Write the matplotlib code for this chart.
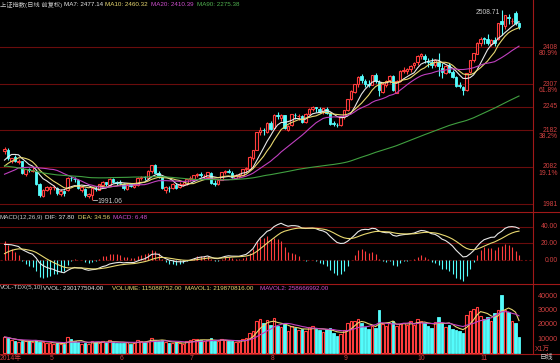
import numpy as np
import pandas as pd
import matplotlib
matplotlib.use('Agg')
import matplotlib.pyplot as plt
from matplotlib.patches import Rectangle
from matplotlib.lines import Line2D
from matplotlib.transforms import blended_transform_factory

plt.rcParams['font.family'] = ['Liberation Sans', 'Noto Sans CJK SC', 'DejaVu Sans']

# closes before the visible window (needed for MA90 / MACD warm-up)
pre_close = [2220.50,
    2207.37, 2222.67, 2251.76, 2248.02, 2237.11, 2238.00, 2238.17, 2203.33, 2201.93, 2196.07, 2160.86,
    2151.08, 2143.30, 2127.36, 2084.79, 2089.71, 2098.40, 2102.42, 2073.10, 2101.25, 2097.53, 2115.98,
    2109.39, 2083.14, 2045.71, 2047.32, 2044.34, 2027.62, 2013.30, 2009.56, 2026.84, 2023.35, 2023.34,
    2004.95, 1991.25, 2008.31, 2051.75, 2042.18, 2054.39, 2033.30, 2038.51, 2049.91, 2033.08,
    2044.50, 2086.00, 2103.67, 2110.52, 2100.46, 2115.85, 2135.28, 2112.13, 2142.55, 2128.13, 2113.69,
    2076.69, 2034.22, 2047.36, 2047.83, 2056.30,
    2075.24, 2071.47, 2053.08, 2071.68, 2057.91, 1999.06, 2001.15, 1997.69, 2019.11, 2004.34, 2023.67,
    2025.20, 2021.73, 1993.48, 2047.62, 2066.28, 2067.31, 2063.67, 2046.59, 2041.71, 2033.31,
    2047.46, 2059.08, 2043.71, 2058.99, 2098.28, 2105.12, 2134.28, 2130.54]

# visible window: 2014-04-14 .. 2014-11-18
open_ = [2124, 2129, 2099, 2109, 2095, 2098, 2062, 2075, 2071, 2072, 2035, 2003, 2018,
    2022, 2027, 2025, 2008, 2016, 2018, 2051, 2050, 2045, 2020, 2022, 2003, 2005, 2023, 2020, 2034, 2040, 2033, 2049, 2040,
    2040, 2036, 2023, 2035, 2028, 2033, 2052, 2054, 2052, 2070, 2086, 2066, 2054, 2020, 2025, 2024, 2034, 2026, 2033, 2036,
    2049, 2050, 2059, 2063, 2056, 2055, 2066, 2037, 2035, 2046, 2067, 2070, 2066, 2053, 2058, 2060, 2075, 2077, 2107, 2129, 2178, 2182, 2178,
    2200, 2188, 2224, 2215, 2222, 2183, 2196, 2224, 2220, 2221, 2203, 2227, 2239, 2244, 2240, 2230, 2240, 2228, 2200, 2197, 2195,
    2218, 2236, 2267, 2285, 2307, 2328, 2315, 2307, 2305, 2333, 2314, 2285, 2306, 2318, 2330, 2284, 2315, 2343, 2343, 2348, 2358,
    2367, 2384, 2383, 2370, 2368, 2358, 2368, 2352, 2338, 2358, 2340, 2326, 2305, 2300, 2290, 2340, 2372, 2390,
    2420, 2432, 2431, 2417, 2427, 2430, 2480, 2466, 2491, 2478, 2500, 2472]
high = [2136, 2132, 2107, 2114, 2103, 2099, 2077, 2080, 2083, 2073, 2038, 2021, 2031,
    2030, 2034, 2027, 2023, 2019, 2055, 2057, 2054, 2048, 2030, 2024, 2011, 2027, 2031, 2036, 2044, 2042, 2053, 2051, 2044,
    2045, 2039, 2037, 2038, 2035, 2055, 2058, 2056, 2073, 2088, 2089, 2070, 2056, 2030, 2029, 2038, 2037, 2040, 2040, 2050,
    2056, 2060, 2066, 2067, 2062, 2068, 2068, 2045, 2049, 2069, 2073, 2076, 2070, 2062, 2065, 2077, 2082, 2111, 2128, 2178, 2190, 2188, 2203,
    2207, 2225, 2231, 2227, 2224, 2197, 2227, 2229, 2226, 2224, 2229, 2242, 2248, 2246, 2244, 2242, 2244, 2232, 2207, 2201, 2219,
    2238, 2267, 2290, 2307, 2328, 2334, 2320, 2319, 2333, 2338, 2318, 2312, 2319, 2333, 2332, 2318, 2346, 2353, 2351, 2359, 2367,
    2385, 2391, 2390, 2378, 2378, 2376, 2392, 2365, 2358, 2364, 2345, 2330, 2313, 2302, 2338, 2374, 2393, 2423,
    2435, 2436, 2444, 2431, 2435, 2474, 2508.71, 2496, 2499, 2487, 2506, 2477]
low = [2118, 2101, 2093, 2096, 2090, 2063, 2056, 2068, 2067, 2033, 2001, 2000, 2017,
    2009, 2019, 2005, 2004, 2002, 2017, 2044, 2040, 2022, 2015, 2000, 1998, 1991.06, 2016, 2018, 2030, 2030, 2031, 2038, 2033,
    2032, 2020, 2019, 2026, 2024, 2030, 2047, 2045, 2050, 2065, 2064, 2053, 2021, 2010, 2015, 2022, 2021, 2024, 2030, 2033,
    2044, 2047, 2055, 2054, 2049, 2049, 2036, 2031, 2033, 2045, 2063, 2064, 2052, 2048, 2053, 2058, 2069, 2075, 2101, 2127, 2170, 2170, 2174,
    2181, 2186, 2213, 2207, 2185, 2179, 2194, 2212, 2210, 2201, 2200, 2225, 2233, 2232, 2228, 2226, 2226, 2197, 2192, 2190, 2194,
    2211, 2234, 2264, 2282, 2299, 2309, 2298, 2300, 2304, 2310, 2275, 2282, 2298, 2310, 2288, 2282, 2313, 2338, 2335, 2340, 2352,
    2360, 2375, 2364, 2355, 2352, 2355, 2330, 2324, 2334, 2336, 2324, 2298, 2296, 2277, 2288, 2338, 2366, 2388,
    2411, 2417, 2413, 2411, 2412, 2428, 2441, 2456, 2470, 2471, 2467, 2458]
close = [2131.54, 2105.09, 2105.13, 2098.85, 2097.75, 2065.53, 2075.90, 2072.41, 2074.36, 2036.52, 2004.25, 2020.34, 2026.36,
    2027.35, 2028.04, 2010.08, 2015.27, 2011.13, 2052.87, 2050.67, 2047.91, 2024.14, 2026.50, 2005.18, 2008.11, 2024.95,
    2021.29, 2034.57, 2041.48, 2034.35, 2050.24, 2040.59, 2039.21,
    2038.32, 2024.46, 2035.57, 2029.98, 2033.13, 2052.51, 2054.24, 2053.09, 2070.71, 2087.32, 2066.33, 2055.57, 2023.73,
    2026.67, 2024.35, 2034.06, 2025.50, 2036.51, 2036.51, 2048.33,
    2050.38, 2059.42, 2063.23, 2059.38, 2057.38, 2066.70, 2038.51, 2035.92, 2046.96, 2067.32, 2069.90, 2067.16, 2055.59,
    2059.08, 2060.14, 2075.48, 2078.16, 2109.13, 2126.61, 2177.00, 2183.48, 2181.24, 2201.56,
    2185.30, 2223.33, 2219.18, 2223.89, 2187.67, 2194.42, 2224.65, 2222.30, 2220.93, 2204.93, 2226.74, 2239.47, 2245.33,
    2240.81, 2230.07, 2240.81, 2229.28, 2199.86, 2197.68, 2195.02, 2217.20,
    2235.51, 2266.05, 2288.63, 2306.86, 2326.43, 2318.35, 2307.75, 2304.71, 2331.95, 2315.93, 2290.16, 2307.58, 2315.66,
    2329.45, 2290.44, 2316.15, 2343.56, 2345.10, 2347.72, 2357.55, 2363.87,
    2382.79, 2389.37, 2374.54, 2366.01, 2359.48, 2373.67, 2356.50, 2341.18, 2356.71, 2339.66, 2326.55, 2302.42, 2302.28,
    2290.44, 2337.87, 2373.03, 2391.08, 2420.18,
    2430.68, 2430.03, 2419.25, 2425.86, 2418.17, 2473.67, 2469.67, 2494.48, 2485.61, 2478.82, 2474.01, 2463.70]
# volume, x1万
volume = [11500, 10800, 9200, 8800, 8000, 9000, 8800, 8600, 8200, 9500, 8300, 7800, 7500,
    7200, 6800, 7400, 6600, 6500, 11500, 9800, 8500, 8200, 6900, 7300, 6800, 8400, 7700, 7600, 8500, 7800, 9200, 8100, 7400,
    7600, 7300, 7800, 6900, 7200, 9500, 8600, 8200, 9000, 10800, 9600, 8400, 9400, 7800, 7200, 7600, 7800, 7100, 6900, 8600,
    9400, 9800, 10200, 9600, 8800, 9100, 10500, 8600, 8400, 9800, 9500, 9000, 8500, 8200, 8100, 9900, 10500, 14000, 16000,
    22500, 24000, 21000, 23500,
    20000, 24500, 19500, 18500, 20500, 16000, 19000, 17500, 16500, 17000, 15800, 18500, 19000, 17000, 16500, 15000, 16800,
    17500, 14500, 12000, 13500,
    16500, 21000, 22500, 23000, 24000, 21500, 18500, 17000, 19500, 17500, 30500, 20500, 19000, 21000, 22500, 19000, 20500,
    21500, 20000, 22500, 20000,
    24000, 22500, 21000, 19500, 18000, 22000, 25500, 21000, 18500, 20000, 17000, 16500, 15500, 14500, 27000, 29500, 31000, 32500,
    26500, 24000, 25700, 23000, 28000, 30500, 41000, 30500, 29000, 22500, 21500, 11509]

month_labels = ['2014年', '5', '6', '7', '8', '9', '10', '11']
month_start = [0, 13, 33, 53, 76, 97, 118, 136]
fib_values = [2408, 2307, 2245, 2182, 2082, 1981]
fib_pct = ['80.9%', '61.8%', '', '38.2%', '19.1%', '']

W, H = 560, 363
RED = '#ff3c3c'
CYAN = '#54fcfc'
GRID = '#6a0c0c'
LBL = '#d04040'
HS = 4.5   # header font size

fig = plt.figure(figsize=(W / 100, H / 100), dpi=100, facecolor='black')


def add_ax(top, bottom):
    a = fig.add_axes([0, 1 - bottom / H, 533 / W, (bottom - top) / H], facecolor='black')
    a.set_xlim(-4.5 / 3.5, (533 - 4.5) / 3.5)
    a.axis('off')
    return a


def ftxt(xp, yp, s, color, size=HS, ha='left'):
    fig.text(xp / W, 1 - yp / H, s, color=color, fontsize=size, ha=ha, va='center')


ax = add_ax(8, 212)
axm = add_ax(212, 284)
axv = add_ax(284, 354)
ax.set_ylim(1981 - 8 * 2.72, 1981 + 196 * 2.72)
axm.set_ylim(-28.9, 57.8)
axv.set_ylim(-350, 48600)

n = len(close)
xs = np.arange(n)
o = np.array(open_, float)
h = np.array(high, float)
l = np.array(low, float)
c = np.array(close, float)
v = np.array(volume, float)
up = c >= o

allc = pd.Series(pre_close + close)
npre = len(pre_close)
ma = {k: allc.rolling(k).mean().values[npre:] for k in (7, 10, 20, 90)}
dif = (allc.ewm(span=12, adjust=False).mean() - allc.ewm(span=26, adjust=False).mean())
dea = dif.ewm(span=9, adjust=False).mean()
macd = (2 * (dif - dea)).values[npre:]
dif = dif.values[npre:]
dea = dea.values[npre:]
vs = pd.Series(volume, dtype=float)
mavol1 = vs.rolling(5, min_periods=1).mean().values
mavol2 = vs.rolling(10, min_periods=1).mean().values

# price grid (fibonacci levels)
tr = blended_transform_factory(ax.transAxes, ax.transData)
for val, pct in zip(fib_values, fib_pct):
    ax.axhline(val, color=GRID, lw=0.8, zorder=0)
    ax.text(558 / 533, val, str(val), transform=tr, color=LBL, fontsize=4.9, ha='right', va='center', clip_on=False)
    if pct:
        ax.text(558 / 533, val - 6.8 * 2.72, pct, transform=tr, color=LBL, fontsize=4.9, ha='right', va='center', clip_on=False)

# candles
bw = 0.72
for i in range(n):
    lo, hi = min(o[i], c[i]), max(o[i], c[i])
    if up[i]:
        ax.vlines(i, hi, h[i], color=RED, lw=0.8)
        ax.vlines(i, l[i], lo, color=RED, lw=0.8)
        ax.add_patch(Rectangle((i - bw / 2, lo), bw, max(hi - lo, 0.5), facecolor='black', edgecolor=RED, lw=0.8))
    else:
        ax.vlines(i, l[i], h[i], color=CYAN, lw=0.8)
        ax.add_patch(Rectangle((i - bw / 2, lo), bw, max(hi - lo, 0.5), facecolor=CYAN, edgecolor=CYAN, lw=0.6))

ax.plot(xs, ma[7], color='#e8e8e8', lw=0.8)
ax.plot(xs, ma[10], color='#e8d870', lw=0.8)
ax.plot(xs, ma[20], color='#c040c0', lw=0.8)
ax.plot(xs, ma[90], color='#40a040', lw=0.8)

# extreme marks
imax = int(np.argmax(h))
imin = int(np.argmin(l))
ax.text(imax - 0.5, h[imax] - 8, '%.2f' % h[imax], color='#c8c8c8', fontsize=4.9, ha='right', va='center')
ax.plot([imin + 0.4, imin + 1.5], [l[imin], l[imin]], color='#c8c8c8', lw=0.6)
ax.text(imin + 1.6, l[imin] - 2, '%.2f' % l[imin], color='#c8c8c8', fontsize=4.9, ha='left', va='center')

# MACD
trm = blended_transform_factory(axm.transAxes, axm.transData)
for val in (40, 20):
    axm.axhline(val, color=GRID, lw=0.8, zorder=0)
    axm.text(558 / 533, val, '%.2f' % val, transform=trm, color=LBL, fontsize=4.9, ha='right', va='center', clip_on=False)
axm.axhline(0, color=GRID, lw=0.8, ls=(0, (2, 2)), zorder=0)
axm.text(558 / 533, 0, '0.00', transform=trm, color=LBL, fontsize=4.9, ha='right', va='center', clip_on=False)
axm.vlines(xs, 0, macd, colors=np.where(macd >= 0, RED, CYAN), lw=0.8)
axm.plot(xs, dif, color='#e8e8e8', lw=0.8)
axm.plot(xs, dea, color='#e8d870', lw=0.8)

# volume
trv = blended_transform_factory(axv.transAxes, axv.transData)
for val in (10000, 20000, 30000, 40000):
    axv.text(558 / 533, val, str(val), transform=trv, color=LBL, fontsize=5.2, ha='right', va='center', clip_on=False)
for i in range(n):
    if up[i]:
        axv.add_patch(Rectangle((i - bw / 2, 0), bw, v[i], facecolor='black', edgecolor=RED, lw=0.8))
    else:
        axv.add_patch(Rectangle((i - bw / 2, 0), bw, v[i], facecolor=CYAN, edgecolor=CYAN, lw=0.6))
axv.plot(xs, mavol1, color='#e8d870', lw=0.8)
axv.plot(xs, mavol2, color='#c040c0', lw=0.8)

# frame lines
for yp in (212, 284, 354):
    fig.add_artist(Line2D([0, 1], [1 - yp / H] * 2, color='#a01818', lw=0.8))
fig.add_artist(Line2D([533 / W] * 2, [1 - 354 / H, 1], color='#a01818', lw=0.8))

# headers
ftxt(0, 5, '上证指数(日线 前复权)', '#c8c8c8')
ftxt(64, 5, 'MA7: 2477.14', '#e8e8e8')
ftxt(105, 5, 'MA10: 2460.32', '#e8d870')
ftxt(151, 5, 'MA20: 2410.39', '#d050d0')
ftxt(197, 5, 'MA90: 2275.38', '#50b050')

ftxt(0, 217, 'MACD(12,26,9)', '#c8c8c8')
ftxt(45, 217, 'DIF: 37.80', '#e8e8e8')
ftxt(78, 217, 'DEA: 34.56', '#e8d870')
ftxt(113, 217, 'MACD: 6.48', '#d050d0')

ftxt(0, 288, 'VOL-TDX(5,10)', '#c8c8c8')
ftxt(43, 288, 'VVOL: 230177504.00', '#e8e8e8')
ftxt(112, 288, 'VOLUME: 115088752.00', '#e8d870')
ftxt(185, 288, 'MAVOL1: 219870816.00', '#e8d870')
ftxt(260, 288, 'MAVOL2: 258666992.00', '#d050d0')

# x axis
for lab, idx in zip(month_labels, month_start):
    xp = 0 if idx == 0 else 4.5 + 3.5 * idx
    ftxt(xp, 358, lab, LBL, 4.9)
ftxt(535, 349, 'X1万', LBL, 4.9)
ftxt(540, 358, '日线', '#c8c8c8', 4.9)

fig.savefig('out.png', dpi=100, facecolor='black')
